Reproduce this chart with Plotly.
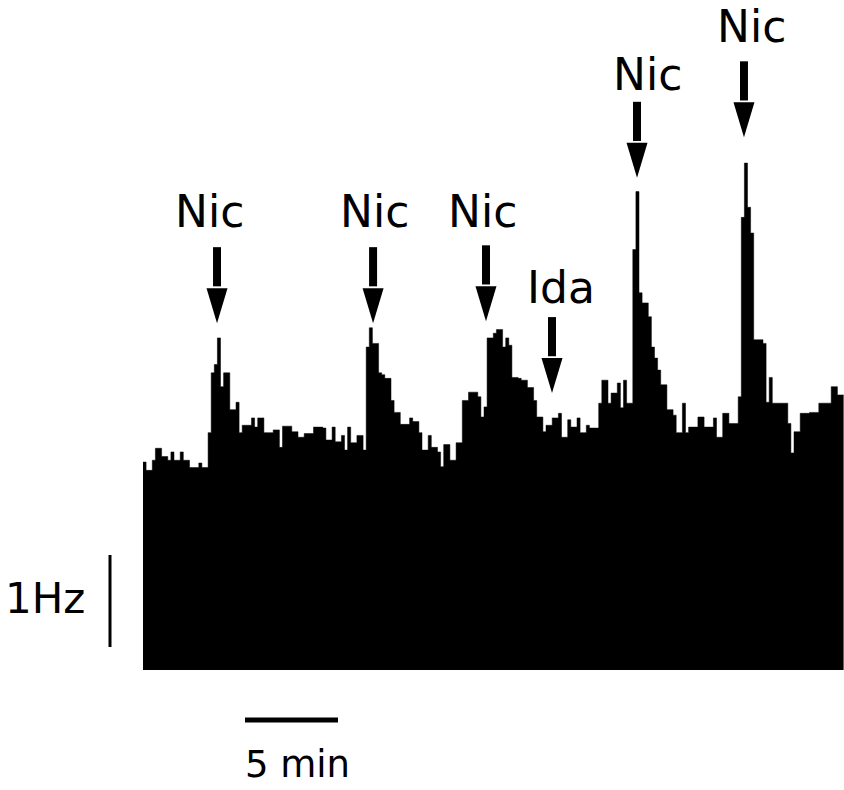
import plotly.graph_objects as go

# ---- data (firing rate histogram, 10-s bins) ----
bin_minutes = 1.0 / 6.0
rate_hz = [
    2.26, 2.17, 2.17, 2.28, 2.41, 2.41, 2.32, 2.32, 2.28, 2.37,
    2.28, 2.28, 2.37, 2.28, 2.28, 2.20, 2.20, 2.20, 2.25, 2.20,
    2.20, 2.58, 3.23, 3.32, 3.61, 3.08, 3.23, 3.23, 2.83, 2.83,
    2.91, 2.58, 2.66, 2.66, 2.66, 2.74, 2.64, 2.74, 2.74, 2.58,
    2.58, 2.58, 2.61, 2.61, 2.42, 2.65, 2.65, 2.65, 2.59, 2.59,
    2.53, 2.53, 2.57, 2.57, 2.57, 2.64, 2.64, 2.64, 2.63, 2.50,
    2.50, 2.64, 2.48, 2.48, 2.55, 2.39, 2.64, 2.47, 2.47, 2.55,
    2.55, 2.39, 3.51, 3.72, 3.55, 3.55, 3.23, 3.21, 3.17, 3.17,
    2.93, 2.80, 2.80, 2.67, 2.67, 2.67, 2.74, 2.70, 2.70, 2.58,
    2.39, 2.39, 2.55, 2.42, 2.42, 2.37, 2.21, 2.45, 2.45, 2.28,
    2.28, 2.47, 2.47, 2.93, 2.93, 3.02, 3.02, 3.02, 2.97, 2.75,
    2.86, 3.61, 3.61, 3.66, 3.70, 3.70, 3.51, 3.61, 3.53, 3.18,
    3.18, 3.17, 3.15, 3.15, 3.07, 3.07, 2.93, 2.75, 2.75, 2.59,
    2.66, 2.66, 2.74, 2.74, 2.79, 2.53, 2.53, 2.72, 2.64, 2.64,
    2.74, 2.58, 2.58, 2.66, 2.63, 2.63, 2.63, 2.90, 3.15, 3.15,
    2.90, 3.01, 3.01, 3.12, 2.85, 3.15, 2.90, 2.90, 4.57, 5.20,
    4.10, 3.99, 3.99, 3.84, 3.51, 3.39, 3.26, 3.10, 3.10, 2.83,
    2.83, 2.77, 2.58, 2.58, 2.90, 2.58, 2.64, 2.64, 2.64, 2.75,
    2.75, 2.64, 2.64, 2.64, 2.74, 2.53, 2.53, 2.79, 2.79, 2.68,
    2.68, 2.68, 2.97, 4.92, 5.51, 5.03, 4.75, 3.59, 3.59, 3.59,
    3.55, 2.91, 3.18, 2.90, 2.90, 2.90, 2.90, 2.90, 2.68, 2.36,
    2.59, 2.59, 2.79, 2.79, 2.79, 2.80, 2.80, 2.80, 2.90, 2.90,
    2.90, 2.90, 3.08, 3.08, 2.99, 2.99,
]

# drug applications (time in min, arrow tip in Hz)
event_labels = ["Nic", "Nic", "Nic", "Ida", "Nic", "Nic"]
event_times = [3.98, 12.37, 18.44, 21.99, 26.56, 32.31]
event_tip_hz = [3.77, 3.77, 3.79, 3.01, 5.35, 5.79]
label_times = [3.60, 12.47, 18.23, 22.47, 27.15, 32.74]
label_hz = [4.98, 4.98, 4.98, 4.16, 6.47, 6.99]

# scale bars
scale_hz = 1.0
scale_min = 5.0

# ---- geometry helpers (pixel size of one unit) ----
PX_PER_MIN = 18.6
PX_PER_HZ = 92.0
X_RANGE = [-143 / PX_PER_MIN, 701 / PX_PER_MIN]
Y_RANGE = [-120 / PX_PER_HZ, 670 / PX_PER_HZ]

times = [i * bin_minutes for i in range(len(rate_hz))]
xs = times + [len(rate_hz) * bin_minutes]
ys = rate_hz + [rate_hz[-1]]

fig = go.Figure()
fig.add_trace(go.Scatter(
    x=xs, y=ys, mode="lines", line=dict(shape="hv", color="black", width=0.5),
    fill="tozeroy", fillcolor="black", hoverinfo="skip", showlegend=False,
))

FONT = "DejaVu Sans"
shapes = []
annotations = []
shaft_len = 76 / PX_PER_HZ
head_len = 35 / PX_PER_HZ
head_half = 10.5 / PX_PER_MIN
for lab, t, tip, lt, lh in zip(event_labels, event_times, event_tip_hz, label_times, label_hz):
    top = tip + shaft_len
    base = tip + head_len
    shapes.append(dict(type="line", xref="x", yref="y", x0=t, x1=t, y0=top, y1=base + 0.02,
                       line=dict(color="black", width=8)))
    shapes.append(dict(type="path", xref="x", yref="y",
                       path=f"M{t - head_half},{base} L{t + head_half},{base} L{t},{tip} Z",
                       fillcolor="black", line=dict(color="black", width=0)))
    annotations.append(dict(x=lt, y=lh, xref="x", yref="y", text=lab, showarrow=False,
                            xanchor="center", yanchor="middle",
                            font=dict(family=FONT, size=44, color="black")))

# 1 Hz scale bar
sb_x = -33 / PX_PER_MIN
sb_y0 = 23 / PX_PER_HZ
shapes.append(dict(type="line", xref="x", yref="y", x0=sb_x, x1=sb_x, y0=sb_y0, y1=sb_y0 + scale_hz,
                   line=dict(color="black", width=3)))
annotations.append(dict(x=-3.0, y=0.78, xref="x", yref="y", text="1Hz", showarrow=False,
                        xanchor="right", yanchor="middle",
                        font=dict(family=FONT, size=42, color="black")))
# 5 min scale bar
tb_x0 = 102 / PX_PER_MIN
tb_y = -50 / PX_PER_HZ
shapes.append(dict(type="line", xref="x", yref="y", x0=tb_x0, x1=tb_x0 + scale_min, y0=tb_y, y1=tb_y,
                   line=dict(color="black", width=5)))
annotations.append(dict(x=tb_x0 + scale_min / 2 + 0.3, y=-1.03, xref="x", yref="y", text="5 min",
                        showarrow=False, xanchor="center", yanchor="middle",
                        font=dict(family=FONT, size=37, color="black")))

fig.update_layout(
    width=844, height=790, margin=dict(l=0, r=0, t=0, b=0),
    paper_bgcolor="white", plot_bgcolor="white",
    xaxis=dict(range=X_RANGE, visible=False, fixedrange=True),
    yaxis=dict(range=Y_RANGE, visible=False, fixedrange=True),
    shapes=shapes, annotations=annotations, showlegend=False,
)
fig.write_html(
    "out.html",
    config={"displayModeBar": False},
    post_script="document.body.style.margin='0';document.body.style.overflow='hidden';",
)
